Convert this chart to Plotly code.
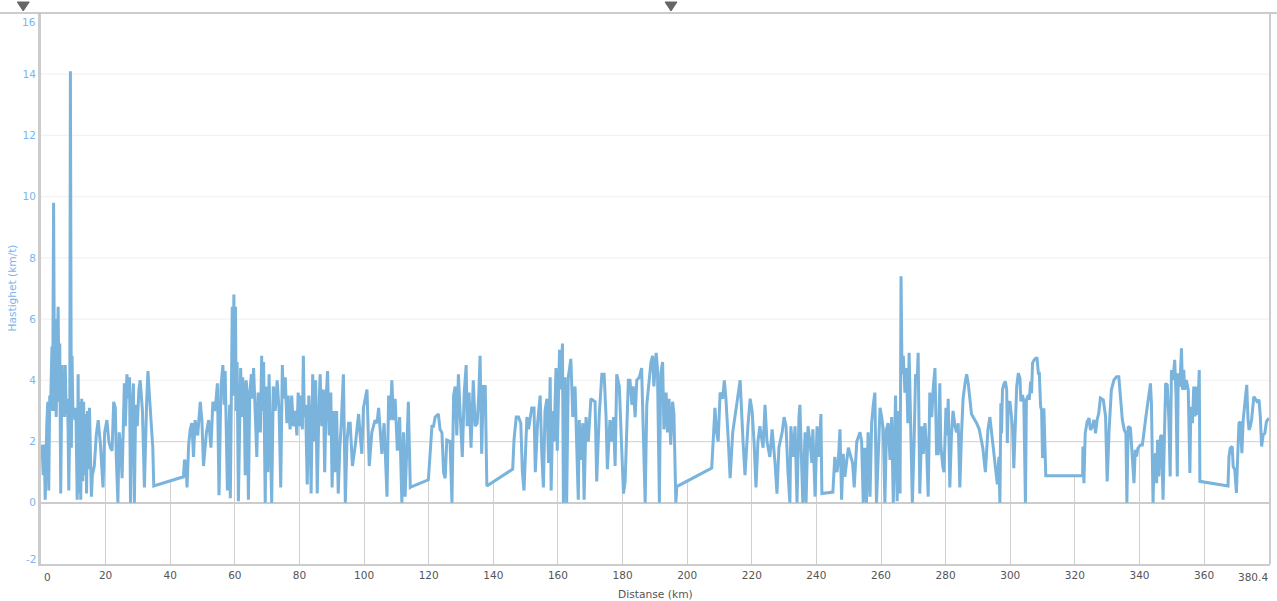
import plotly.graph_objects as go

# ---- data (distance in km, speed in km/t) ----
distance_km = [
    0.3, 0.7, 1.0, 1.3, 1.8, 2.1, 2.4, 2.7, 3.0, 3.4, 3.6, 3.9, 4.2, 4.4, 4.7, 5.3, 5.6, 5.8, 6.1, 6.5,
    6.8, 7.1, 7.3, 7.5, 7.8, 8.2, 8.4, 8.6, 8.9, 9.1, 9.4, 9.6, 9.9, 10.2, 10.5, 10.8, 11.2, 11.5, 11.7, 12.0,
    12.3, 12.6, 12.9, 13.2, 13.5, 13.8, 14.1, 14.4, 14.7, 15.0, 15.6, 15.9, 16.5, 17.1, 17.7, 18.4, 19.2, 19.7, 20.4, 21.0,
    21.5, 22.0, 22.5, 23.0, 23.3, 23.8, 24.2, 24.7, 25.1, 25.5, 25.8, 26.1, 26.6, 27.0, 27.4, 27.7, 28.1, 28.6, 28.9, 29.3,
    29.8, 30.3, 30.7, 31.4, 32.0, 32.7, 33.1, 33.5, 34.1, 34.6, 34.9,
    44.1, 44.4, 44.9, 45.2, 45.7, 46.2, 46.7, 47.2, 47.7, 48.5, 49.3, 49.8, 50.3, 51.2, 51.9, 52.6, 53.2, 53.9, 54.6, 55.1,
    55.7, 56.3, 56.7, 57.0, 57.7, 58.1, 58.4, 58.6, 58.9, 59.2, 59.4, 59.7, 59.9, 60.2, 60.4, 60.7, 61.1, 61.5, 61.8, 62.2,
    62.4, 62.9, 63.2, 63.5, 63.8, 64.2, 64.6, 65.1, 65.4, 65.8, 66.3, 66.8, 67.2, 67.9, 68.3, 68.6, 68.9, 69.4, 69.7, 70.2,
    70.6, 70.9, 71.4, 71.9, 72.5, 73.1, 73.7, 74.2, 74.7, 75.0, 75.6, 76.1, 76.5, 77.1, 77.6, 78.1, 78.7, 79.2, 79.6, 80.1,
    80.4, 80.9, 81.2, 81.5, 81.9, 82.4, 82.9, 83.3, 83.6, 84.1, 84.6, 85.0, 85.5, 86.0, 86.4, 86.9, 87.4, 87.8, 88.3, 88.7,
    89.2, 89.7, 90.1, 90.6, 91.1, 91.5, 92.0, 92.5, 92.9, 93.6, 94.2, 94.7, 95.2, 95.7, 96.4, 97.3, 98.3, 98.8, 99.3, 99.8,
    100.9, 101.6, 102.4, 103.4, 104.0, 104.5, 105.5, 106.2, 107.1, 107.6, 108.1, 108.6, 109.1, 109.6, 110.3, 111.0, 111.7, 112.2, 112.7, 113.2,
    113.7, 114.3, 114.8,
    119.9, 120.5, 121.0, 121.5, 122.0, 123.0, 123.5, 124.1, 124.6, 125.1, 125.6, 126.6, 127.2, 127.7, 128.2, 128.7, 129.2, 129.7, 130.4, 131.0,
    131.6, 131.9, 132.5, 133.1, 133.8, 134.4, 135.0, 135.5, 135.9, 136.4, 136.9, 137.5, 137.8, 138.0,
    146.0, 146.4, 147.1, 147.8, 148.5, 149.0, 149.5, 149.8, 150.4, 150.9, 151.4, 151.9, 152.6, 153.0, 153.7, 154.5, 155.0, 155.5, 156.0, 156.6,
    157.1, 157.6, 157.9, 158.4, 158.8, 159.4, 159.8, 160.5, 160.9, 161.4, 161.7, 162.2, 162.7, 163.2, 164.0, 164.6, 165.3, 165.8, 166.3, 166.6,
    167.1, 167.7, 168.1, 168.7, 169.4, 170.2, 171.5, 172.0, 172.8, 173.6, 174.3, 174.9, 175.3, 176.1, 176.7, 177.2, 177.7, 178.2, 179.0, 179.8,
    180.3, 180.8, 181.3, 181.8, 182.3, 182.9, 183.3, 183.9, 184.4, 185.2, 185.9, 186.4, 187.0, 187.5, 188.3, 188.8, 189.3, 189.7, 190.4, 190.8,
    191.4, 191.8, 192.4, 192.8, 193.5, 193.9, 194.4, 194.9, 195.5, 195.9, 196.5, 196.8,
    207.6, 208.1, 208.6, 209.1, 209.6, 210.2, 211.0, 211.5, 212.0, 212.7, 213.3, 214.1, 215.3, 216.4, 217.3, 217.9, 218.8, 219.5, 220.1, 220.7,
    221.3, 221.9, 222.5, 223.5, 224.1, 224.7, 225.6, 226.3, 227.2, 227.8, 228.4, 229.4, 230.0, 230.6, 231.2, 231.8, 232.1, 232.8, 233.4, 234.0,
    234.6, 234.9, 235.5, 235.8, 236.5, 236.8, 237.4, 238.0, 238.6, 238.9, 239.6, 240.2, 240.8, 241.4, 241.7,
    245.1, 245.7, 246.4, 246.8, 247.3, 247.8, 248.3, 248.8, 249.4, 249.9, 250.4, 251.2, 251.7, 252.5, 253.5, 254.0, 254.5, 255.0, 255.5, 256.0,
    256.6, 257.1, 257.6, 258.1, 258.6, 259.1, 259.7, 260.2, 260.7, 261.2, 261.7, 262.2, 262.8, 263.3, 263.8, 264.5, 265.0, 265.5, 265.9, 266.2,
    266.5, 266.9, 267.4, 267.9, 268.3, 268.7, 269.2, 269.7, 270.2, 270.7, 271.2, 271.5, 272.0, 272.6, 273.1, 273.6, 274.1, 274.6, 275.1, 275.7,
    276.2, 276.7, 277.2, 277.7, 278.2, 278.5, 279.1, 279.5, 280.1, 280.5, 280.8, 281.3, 281.8, 282.3, 282.9, 283.4, 283.9, 284.4, 284.9, 285.4,
    286.0, 286.5, 287.0, 287.5, 288.0, 288.5, 289.6, 290.4, 291.5, 292.3, 293.1, 293.7, 294.5, 295.2, 296.0, 296.5, 296.8,
    297.1, 297.3, 297.6, 298.1, 298.5, 298.9, 299.1, 299.4, 299.9, 300.2, 300.7, 301.1, 301.4, 302.0, 302.5, 303.0, 303.3, 303.8, 304.2, 304.7,
    305.0, 305.6, 305.9, 306.3, 306.6, 306.9, 307.4, 307.9, 308.3, 308.7, 309.0, 309.4, 309.7, 310.0, 310.4, 310.7, 311.0,
    322.4, 322.5, 322.8, 323.2, 323.8, 324.4, 324.8, 325.4, 325.9, 326.4, 326.9, 327.4, 327.9, 328.8, 329.5, 330.0, 330.6, 331.3, 332.1, 332.9,
    333.6, 334.1, 334.7, 335.3, 335.8, 336.1, 336.5, 337.2, 337.8, 338.3, 338.7, 339.1, 339.5, 339.9, 340.3, 340.9, 341.3, 342.0, 342.7, 343.4,
    343.7, 344.2, 344.5, 345.0, 345.3, 345.6, 346.0, 346.5, 346.8, 347.3, 347.7, 348.1, 348.6, 349.1, 349.5, 349.9, 350.4, 350.9, 351.3, 351.7,
    352.0, 352.5, 353.0, 353.3, 353.7, 354.0, 354.5, 355.1, 355.6, 355.9, 356.4, 356.8, 357.2, 357.6, 358.0, 358.5, 358.7,
    367.4, 367.7, 368.1, 368.7, 369.0, 369.5, 370.0, 370.4, 370.8, 371.2, 371.7, 372.1, 372.6, 373.2, 373.6, 373.9, 374.3, 374.7, 375.4, 376.0,
    376.4, 377.0, 377.4, 377.8, 378.3, 378.8, 379.3, 379.8, 380.1,
]

speed_kmt = [
    1.9, 0.9, 1.9, 0.1, 2.6, 3.3, 0.4, 3.5, 3.3, 5.1, 3.0, 9.8, 3.0, 6.0, 2.8, 6.4, 3.3, 5.2, 0.3, 4.5,
    2.9, 3.6, 2.8, 4.5, 2.9, 3.4, 2.3, 0.4, 2.6, 14.1, 1.8, 4.8, 2.8, 3.1, 2.7, 3.1, 0.1, 4.2, 0.3, 3.3,
    0.1, 3.4, 0.7, 3.3, 0.9, 2.9, 0.3, 3.0, 1.1, 3.1, 0.2, 0.9, 1.2, 2.2, 2.7, 1.9, 0.5, 2.3, 2.7, 2.0,
    1.8, 1.7, 3.3, 3.1, 1.5, 0.0, 2.3, 1.8, 0.8, 3.0, 3.9, 2.5, 4.2, 3.4, 4.1, 0.0, 3.0, 3.9, 0.0, 3.2,
    2.5, 3.7, 4.0, 3.0, 0.5, 3.3, 4.3, 3.6, 2.6, 1.8, 0.55,
    0.85, 1.4, 1.3, 0.5, 1.9, 2.4, 2.6, 1.5, 2.7, 2.2, 3.3, 2.7, 1.2, 2.3, 2.7, 1.8, 3.3, 3.0, 3.9, 0.25,
    3.8, 4.5, 3.2, 4.3, 0.4, 2.2, 3.2, 0.15, 5.0, 6.4, 3.5, 6.8, 4.0, 6.4, 3.0, 4.6, 0.05, 3.5, 4.4, 2.8,
    4.1, 3.5, 0.9, 4.0, 3.6, 0.1, 3.5, 4.2, 3.4, 4.4, 3.0, 1.5, 3.6, 2.3, 4.8, 3.0, 4.6, 0.0, 3.8, 1.0,
    4.2, 2.5, 0.0, 3.8, 3.0, 4.0, 3.0, 0.5, 4.5, 3.4, 4.1, 2.6, 3.5, 2.4, 3.5, 2.5, 3.0, 2.2, 3.6, 2.5,
    3.5, 2.4, 4.8, 2.8, 3.2, 0.6, 3.5, 2.4, 0.3, 4.2, 2.0, 4.0, 0.3, 3.0, 4.2, 2.5, 3.7, 1.0, 3.5, 4.3,
    2.2, 3.6, 0.5, 3.0, 1.0, 3.0, 0.3, 1.8, 2.5, 4.2, 0.0, 2.0, 2.6, 2.6, 1.2, 1.9, 2.9, 2.2, 1.6, 3.1,
    3.7, 1.2, 2.3, 2.7, 2.6, 3.1, 1.6, 2.6, 0.2, 3.5, 2.7, 4.0, 2.7, 3.4, 1.7, 2.8, 0.0, 2.3, 0.2, 1.7,
    3.3, 0.5, 0.53,
    0.75, 1.8, 2.5, 2.5, 2.8, 2.9, 2.4, 2.3, 1.0, 0.8, 2.05, 2.0, 0.0, 3.5, 3.8, 2.2, 4.2, 3.0, 1.5, 3.6,
    4.5, 2.5, 3.6, 1.8, 4.0, 2.5, 2.6, 3.5, 4.8, 1.6, 3.8, 3.8, 0.6, 0.55,
    1.1, 2.05, 2.8, 2.8, 2.6, 1.0, 0.4, 1.2, 2.8, 2.4, 2.8, 3.1, 3.1, 1.0, 2.6, 3.5, 1.6, 0.5, 3.0, 3.4,
    1.3, 4.1, 0.4, 3.0, 2.0, 4.4, 1.7, 5.0, 3.7, 5.2, 0.0, 4.1, 0.0, 4.1, 4.7, 2.8, 3.8, 2.2, 0.1, 2.7,
    1.4, 2.6, 0.1, 2.8, 2.0, 3.4, 3.3, 0.7, 2.9, 4.2, 4.2, 2.8, 1.1, 2.7, 2.0, 2.8, 1.2, 4.2, 3.8, 1.6,
    0.3, 0.7, 2.3, 4.0, 4.0, 3.2, 3.8, 2.8, 4.0, 4.1, 4.4, 2.0, 0.0, 3.2, 4.0, 4.6, 4.8, 3.8, 4.9, 4.4,
    0.0, 4.2, 4.6, 2.4, 3.6, 2.3, 3.4, 1.9, 3.3, 2.9, 0.0, 0.53,
    1.13, 2.3, 3.1, 2.3, 2.0, 3.6, 3.4, 4.0, 3.4, 2.1, 0.8, 2.3, 3.2, 4.0, 2.0, 0.9, 2.5, 3.4, 3.0, 2.0,
    0.5, 2.0, 2.5, 1.8, 3.2, 2.0, 1.5, 2.4, 1.3, 0.3, 1.8, 2.3, 2.8, 2.5, 1.0, 0.0, 2.5, 1.5, 2.5, 0.0,
    2.8, 3.2, 1.0, 0.0, 2.3, 0.0, 2.5, 2.0, 1.3, 2.4, 0.2, 2.5, 1.5, 2.9, 0.3,
    0.35, 1.5, 1.0, 1.4, 2.4, 0.1, 1.6, 0.85, 1.4, 1.8, 1.6, 1.3, 0.5, 2.0, 2.3, 2.0, 0.0, 1.8, 0.0, 2.3,
    0.2, 2.6, 3.2, 3.6, 0.0, 1.7, 3.1, 2.8, 2.4, 0.0, 2.4, 2.6, 1.4, 2.8, 0.0, 3.5, 0.05, 3.0, 0.3, 7.4,
    4.2, 4.8, 3.6, 4.4, 2.6, 4.9, 2.5, 0.0, 1.8, 4.2, 4.0, 4.9, 0.3, 2.5, 1.6, 2.6, 1.8, 0.2, 3.6, 2.8,
    3.8, 4.4, 1.6, 1.6, 3.9, 1.9, 1.2, 1.0, 3.1, 2.2, 3.4, 0.5, 2.2, 3.0, 2.5, 2.3, 2.6, 0.5, 2.2, 3.4,
    3.9, 4.2, 3.9, 3.4, 2.9, 2.8, 2.6, 2.4, 1.8, 1.0, 2.4, 2.8, 2.0, 1.4, 0.6, 1.5, 0.0,
    3.25, 2.27, 3.69, 3.9, 3.96, 3.69, 1.95, 3.25, 3.31, 2.93, 2.49, 1.13, 2.27, 3.8, 4.23, 4.07, 3.31, 3.52, 3.31, 0.0,
    3.36, 3.52, 3.36, 3.96, 3.58, 4.56, 4.67, 4.72, 4.72, 4.23, 4.23, 3.14, 3.04, 1.46, 3.09, 1.4, 0.88,
    0.88, 1.84, 0.64, 2.27, 2.65, 2.76, 2.38, 2.49, 2.71, 2.27, 2.71, 2.93, 3.42, 3.36, 2.82, 0.7, 2.38, 3.69, 4.01, 4.12,
    4.12, 3.58, 2.71, 2.38, 2.27, 0.0, 2.49, 2.44, 1.35, 0.64, 1.73, 1.51, 1.78, 1.84, 1.89, 1.89, 2.27, 2.82, 3.36, 3.9,
    3.25, 0.0, 1.29, 1.62, 0.64, 2.06, 0.86, 2.16, 2.22, 0.1, 2.06, 3.9, 3.85, 2.71, 0.86, 4.34, 4.01, 4.67, 3.58, 0.86,
    4.23, 3.8, 5.05, 3.69, 4.34, 3.69, 4.01, 3.69, 0.97, 3.14, 2.6, 3.8, 2.82, 3.8, 2.87, 4.34, 0.7,
    0.55, 1.51, 1.78, 1.84, 1.19, 1.08, 0.32, 1.51, 2.6, 2.65, 1.62, 2.71, 3.25, 3.85, 2.71, 2.38, 2.49, 2.71, 3.47, 3.36,
    3.31, 3.36, 2.82, 1.84, 2.22, 2.27, 2.65, 2.73, 2.73,
]

x_tickvals = [0, 20, 40, 60, 80, 100, 120, 140, 160, 180, 200, 220, 240, 260, 280, 300, 320, 340, 360, 380.4]
x_ticktext = ["", "20", "40", "60", "80", "100", "120", "140", "160", "180", "200", "220", "240",
              "260", "280", "300", "320", "340", "360", ""]
y_tickvals = [-2, 0, 2, 4, 6, 8, 10, 12, 14, 16]
y_ticktext = ["", "0", "2", "4", "6", "8", "10", "12", "14", ""]
x_min, x_max = 0, 380.4
y_min, y_max = -2, 16
marker_km = [-5.5, 195.0]

LINE_BLUE = "#7ab4dc"
LABEL_BLUE = "#7cb5ec"
FONT = "DejaVu Sans"

FIG_W, FIG_H = 1277, 601
M_L, M_R, M_T, M_B = 41, 7, 13, 37
PLOT_W = FIG_W - M_L - M_R
PLOT_H = FIG_H - M_T - M_B

fig = go.Figure()

# white cover above the curve (hides the vertical grid above the line)
fig.add_trace(go.Scatter(
    x=distance_km + [x_max, x_min], y=speed_kmt + [y_max, y_max],
    mode="lines", fill="toself", fillcolor="white", line=dict(width=0),
    hoverinfo="skip", showlegend=False))

# horizontal grid lines
for yv in y_tickvals:
    if yv in (y_min, 0, y_max):
        continue
    color = "#d9d9d9" if yv == 2 else "#f2f2f2"
    fig.add_trace(go.Scatter(
        x=[x_min, x_max], y=[yv, yv], mode="lines",
        line=dict(color=color, width=1.2), hoverinfo="skip", showlegend=False))

# speed curve
fig.add_trace(go.Scatter(
    x=distance_km, y=speed_kmt, mode="lines",
    line=dict(color=LINE_BLUE, width=3), showlegend=False))

tick_font = dict(size=10.5, color="#555555")

annotations = [
    dict(text="0", xref="x", yref="paper", x=x_min, y=-13 / PLOT_H, xanchor="left", yanchor="middle",
         showarrow=False, font=tick_font, xshift=1),
    dict(text="380.4", xref="x", yref="paper", x=x_max, y=-13 / PLOT_H, xanchor="right", yanchor="middle",
         showarrow=False, font=tick_font),
    dict(text="16", xref="paper", yref="y", x=-3 / PLOT_W, y=y_max, xanchor="right", yanchor="middle",
         yshift=-9, showarrow=False, font=dict(size=10.5, color=LABEL_BLUE)),
    dict(text="-2", xref="paper", yref="y", x=-3 / PLOT_W, y=y_min, xanchor="right", yanchor="middle",
         yshift=5, showarrow=False, font=dict(size=10.5, color=LABEL_BLUE)),
    dict(text="Distanse (km)", xref="paper", yref="paper", x=0.5, y=-30.5 / PLOT_H, xanchor="center",
         yanchor="middle", showarrow=False, font=dict(size=10.7, color="#555555")),
    dict(text="Hastighet (km/t)", xref="paper", yref="paper", x=-30 / PLOT_W, y=0.5,
         xanchor="center", yanchor="middle", textangle=-90, showarrow=False,
         font=dict(size=10.6, color=LABEL_BLUE)),
]

shapes = [
    dict(type="line", xref="paper", yref="paper", x0=-M_L / PLOT_W, x1=1 + M_R / PLOT_W, y0=1, y1=1,
         line=dict(color="#bbbbbb", width=1.5), layer="above"),
    dict(type="line", xref="paper", yref="paper", x0=1, x1=1, y0=0, y1=1,
         line=dict(color="#cccccc", width=2), layer="above"),
]
# top pin markers (downward triangles above the plot frame)
half_w = 6 / PLOT_W
y_top = 1 + 11 / PLOT_H
y_bot = 1 + 2 / PLOT_H
for km in marker_km:
    xc = (km - x_min) / (x_max - x_min)
    shapes.append(dict(
        type="path", xref="paper", yref="paper",
        path=f"M {xc - half_w},{y_top} L {xc + half_w},{y_top} L {xc},{y_bot} Z",
        fillcolor="#666666", line=dict(color="#666666", width=1), layer="above"))

fig.update_layout(
    width=FIG_W, height=FIG_H,
    margin=dict(l=M_L, r=M_R, t=M_T, b=M_B),
    paper_bgcolor="white", plot_bgcolor="white",
    font=dict(family=FONT, size=11, color="#555555"),
    xaxis=dict(
        range=[x_min, x_max], tickvals=x_tickvals, ticktext=x_ticktext,
        showgrid=True, gridcolor="#d0d0d0", gridwidth=1,
        zeroline=False, showline=True, linecolor="#cccccc", linewidth=2,
        ticks="", tickfont=tick_font, fixedrange=True),
    yaxis=dict(
        range=[y_min, y_max], tickvals=y_tickvals, ticktext=y_ticktext,
        showgrid=False, zeroline=True, zerolinecolor="#cccccc", zerolinewidth=2,
        showline=True, linecolor="#cccccc", linewidth=3,
        ticks="", tickfont=dict(size=10.5, color=LABEL_BLUE), fixedrange=True),
    shapes=shapes,
    annotations=annotations,
)

fig.write_html(
    "out.html",
    config={"displayModeBar": False},
    post_script="document.body.style.margin='0';document.body.style.overflow='hidden';",
)
